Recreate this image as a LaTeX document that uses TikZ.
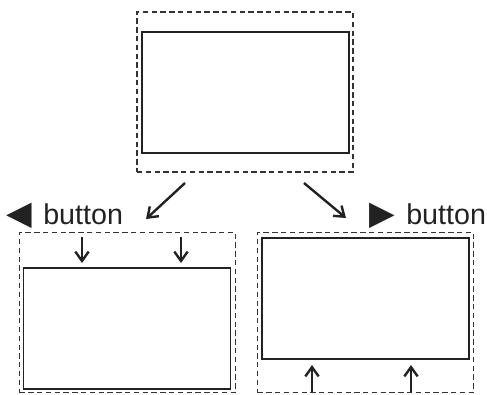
\documentclass[tikz,border=0pt]{standalone}
\usepackage{fontspec}
\setmainfont{Liberation Sans}
\newfontfamily\symfont{DejaVu Sans}
\usetikzlibrary{positioning,arrows.meta,calc}
\definecolor{ink}{HTML}{222222}
\definecolor{dash}{HTML}{333333}
\begin{document}
\begin{tikzpicture}[
  x=0.75pt,y=-0.75pt,
  every node/.style={inner sep=0pt,outer sep=0pt},
  frame/.style={draw=dash,dash pattern=on 4pt off 2.6pt,line width=1.3pt,minimum width=162pt,minimum height=120pt},
  screen/.style={draw=ink,line width=1.1pt,minimum width=155pt,minimum height=91pt},
  label/.style={font=\fontsize{21.5}{24}\selectfont,text=ink},
  edge/.style={-{Straight Barb[length=7pt,width=10pt,line width=1.8pt]},draw=ink,line width=1.8pt}
]
\useasboundingbox (0,0) rectangle (487,394);
% top window
\node[frame] (top) at (245,92) {};
\node[screen] (topscr) at (245.5,92.5) {};
% left: moved down
\node[frame] (left) at (127.5,312.5) {};
\node[screen] (leftscr) at (127,328.5) {};
% right: moved up
\node[frame] (right) at (365.5,312.5) {};
\node[screen] (rightscr) at (365.5,298.5) {};
% button labels
\node[label,anchor=base west] (lbtn) at (7,224) {{\symfont\fontsize{25}{26}\selectfont ◀}\hspace{8pt}button};
\node[label,anchor=base east] (rbtn) at (486,224) {{\symfont\fontsize{25}{26}\selectfont ▶}\hspace{8pt}button};
% arrows from top window
\coordinate (la) at (185,183);
\coordinate (lb) at (146,219);
\coordinate (ra) at (304,183);
\coordinate (rb) at (346,218);
\draw[edge] (la) -- (lb);
\draw[edge] (ra) -- (rb);
% pushes
\foreach \x in {82,181}
  \draw[edge] (\x,237) -- (\x,263);
\foreach \x in {312,411}
  \draw[edge] (\x,392) -- (\x,365);
\end{tikzpicture}
\end{document}
